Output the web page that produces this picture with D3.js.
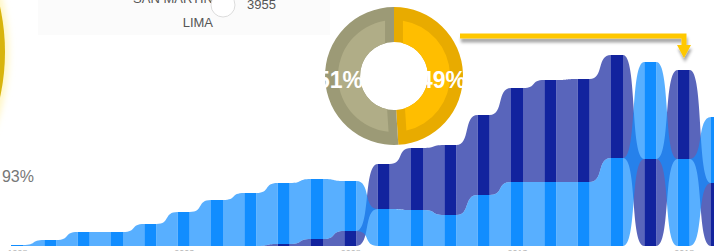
<!DOCTYPE html>
<html>
<head>
<meta charset="utf-8">
<script src="https://cdn.jsdelivr.net/npm/d3@7"></script>
<style>
  html, body { margin: 0; padding: 0; background: #fff; overflow: hidden; }
  svg { display: block; font-family: "Liberation Sans", Arial, sans-serif; }
</style>
</head>
<body>
<div id="chart"></div>
<script>
// ── Data ──────────────────────────────────────────────────────────────────────
const CATEGORIES  = d3.range(1998, 2020).map(String);
const VALUES_A    = [1, 6, 14, 14, 22, 34, 46, 53, 61, 60, 50, 37, 36, 31, 51, 64, 64, 64, 88, 97, 87, 66];
const VALUES_B    = [0, 0, 0, 0, 0, 0, 0, 0, 2, 7, 15, 45, 62, 70, 80, 94, 102, 103, 103, 87, 89, 63];
const TICK_LABELS = ["1998", "2003", "2008", "2013", "2018"];

const DONUT_VALUES = [49, 51];
const DONUT_LABELS = ["49%", "51%"];

const LIST_LABELS = ["SAN MARTIN", "LIMA"];
const LIST_VALUE  = "3955";
const KPI_TEXT    = "93%";

// ── Colours ───────────────────────────────────────────────────────────────────
const SERIES_COLORS = ["#118DFF", "#12239E"];
const DONUT_OUTER   = ["#e8ab00", "#9c9a76"];
const DONUT_INNER   = ["#ffbe00", "#b0ad87"];
const ARROW_COLOR   = "#ffc800";

// ── SVG ───────────────────────────────────────────────────────────────────────
const W = 714, H = 251;
const svg = d3.select("#chart").append("svg")
  .attr("width", W).attr("height", H);

const defs = svg.append("defs");
defs.append("filter").attr("id", "glow")
  .attr("x", "-50%").attr("y", "-50%").attr("width", "200%").attr("height", "200%")
  .append("feGaussianBlur").attr("stdDeviation", 3);
defs.append("filter").attr("id", "shadow")
  .attr("x", "-10%").attr("y", "-50%").attr("width", "120%").attr("height", "300%")
  .append("feDropShadow")
  .attr("dx", 1).attr("dy", 4).attr("stdDeviation", 1.8)
  .attr("flood-color", "#000").attr("flood-opacity", 0.35);

// ── Background pieces of the dashboard ───────────────────────────────────────
svg.append("rect")
  .attr("x", 38).attr("y", 0).attr("width", 292).attr("height", 35)
  .attr("fill", "#fbfbfb");

svg.append("circle")
  .attr("cx", -205).attr("cy", 52).attr("r", 214)
  .attr("fill", "#fff6c4").attr("filter", "url(#glow)");
svg.append("circle")
  .attr("cx", -205).attr("cy", 52).attr("r", 210)
  .attr("fill", "#d8b40c");

svg.append("text")
  .attr("x", 213).attr("y", 3).attr("text-anchor", "end")
  .attr("fill", "#555").style("font-size", "13px")
  .text(LIST_LABELS[0]);
svg.append("text")
  .attr("x", 213).attr("y", 27).attr("text-anchor", "end")
  .attr("fill", "#555").style("font-size", "13px")
  .text(LIST_LABELS[1]);
svg.append("circle")
  .attr("cx", 223).attr("cy", 5).attr("r", 12)
  .attr("fill", "#fff").attr("stroke", "#dcdcdc").attr("stroke-width", 1);
svg.append("text")
  .attr("x", 247).attr("y", 9)
  .attr("fill", "#555").style("font-size", "13px")
  .text(LIST_VALUE);

svg.append("text")
  .attr("x", 34).attr("y", 182).attr("text-anchor", "end")
  .attr("fill", "#777").style("font-size", "16px")
  .text(KPI_TEXT);

// ── Ribbon chart ─────────────────────────────────────────────────────────────
const x = d3.scalePoint().domain(CATEGORIES).range([17, 717]);
const y = d3.scaleLinear().domain([0, 200]).range([246, 46]);
const BAR_W = 12;
const CURVE = 0.68;   // how far the control points reach into the gap

const seriesValues = [VALUES_A, VALUES_B];

// per column: the smaller value sits at the bottom, the larger one on top
const stacks = CATEGORIES.map((c, i) => {
  const vals = seriesValues.map(v => v[i]);
  const order = d3.range(vals.length).sort((a, b) => vals[a] - vals[b]);
  const seg = [];
  let base = 0;
  order.forEach(s => { seg[s] = { y0: base, y1: base + vals[s] }; base += vals[s]; });
  return seg;
});

function ribbonPath(i, s) {
  const a = stacks[i][s], b = stacks[i + 1][s];
  const xa = x(CATEGORIES[i]) + BAR_W / 2;
  const xb = x(CATEGORIES[i + 1]) - BAR_W / 2;
  const d = (xb - xa) * CURVE;
  const p = d3.path();
  p.moveTo(xa, y(a.y1));
  p.bezierCurveTo(xa + d, y(a.y1), xb - d, y(b.y1), xb, y(b.y1));
  p.lineTo(xb, y(b.y0));
  p.bezierCurveTo(xb - d, y(b.y0), xa + d, y(a.y0), xa, y(a.y0));
  p.closePath();
  return p.toString();
}

const chart = svg.append("g");

// navy ribbons first, light blue ones over them
[1, 0].forEach(s => {
  chart.append("g").selectAll("path")
    .data(d3.range(CATEGORIES.length - 1)
      .filter(i => seriesValues[s][i] > 0 || seriesValues[s][i + 1] > 0))
    .join("path")
    .attr("d", i => ribbonPath(i, s))
    .attr("fill", SERIES_COLORS[s])
    .attr("fill-opacity", 0.7);
});

[1, 0].forEach(s => {
  chart.append("g").selectAll("rect")
    .data(CATEGORIES.filter((c, i) => seriesValues[s][i] > 0))
    .join("rect")
    .attr("x", c => x(c) - BAR_W / 2)
    .attr("width", BAR_W)
    .attr("y", c => y(stacks[CATEGORIES.indexOf(c)][s].y1))
    .attr("height", c => {
      const seg = stacks[CATEGORIES.indexOf(c)][s];
      return y(seg.y0) - y(seg.y1);
    })
    .attr("fill", SERIES_COLORS[s]);
});

svg.append("g")
  .attr("transform", "translate(0,246)")
  .call(d3.axisBottom(x).tickValues(TICK_LABELS).tickSize(0).tickPadding(4))
  .call(g => g.select(".domain").remove())
  .selectAll("text")
  .attr("fill", "#b5b5b5")
  .style("font-size", "9px")
  .style("font-family", "Liberation Sans, Arial, sans-serif");

// ── Donut ────────────────────────────────────────────────────────────────────
const pie = d3.pie().sort(null)(DONUT_VALUES);
const arcOuter = d3.arc().innerRadius(34).outerRadius(69);
const arcInner = d3.arc().innerRadius(34).outerRadius(56).padAngle(0.4).padRadius(45);

const donut = svg.append("g").attr("transform", "translate(394,76)");
donut.selectAll("path.outer")
  .data(pie).join("path").attr("class", "outer")
  .attr("d", arcOuter)
  .attr("fill", (d, i) => DONUT_OUTER[i]);
donut.selectAll("path.inner")
  .data(pie).join("path").attr("class", "inner")
  .attr("d", arcInner)
  .attr("fill", (d, i) => DONUT_INNER[i]);

const labelX = [49, -54];
donut.selectAll("text")
  .data(pie).join("text")
  .attr("x", (d, i) => labelX[i])
  .attr("y", 12)
  .attr("text-anchor", "middle")
  .attr("fill", "#fff")
  .style("font-size", "23px")
  .style("font-weight", "bold")
  .text((d, i) => DONUT_LABELS[i]);

// ── Arrow ────────────────────────────────────────────────────────────────────
const arrow = svg.append("g").attr("filter", "url(#shadow)");
arrow.append("path")
  .attr("d", "M460,36H684V47")
  .attr("fill", "none")
  .attr("stroke", ARROW_COLOR).attr("stroke-width", 5);
arrow.append("path")
  .attr("d", "M677,45L691,45L684,58Z")
  .attr("fill", ARROW_COLOR);
</script>
</body>
</html>
